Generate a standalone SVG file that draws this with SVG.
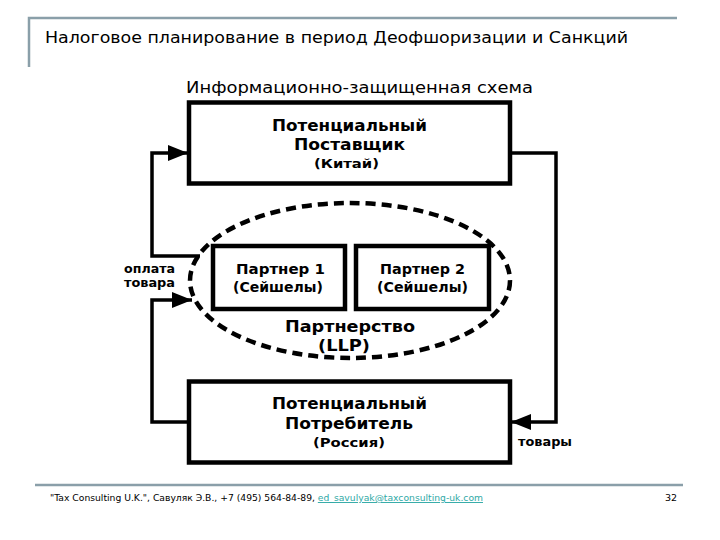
<svg xmlns="http://www.w3.org/2000/svg" width="720" height="540" viewBox="0 0 720 540">
<style>
.t{font-family:"DejaVu Sans","Liberation Sans",sans-serif;fill:#000}
.b{font-weight:bold}
.box{fill:#fff;stroke:#000;stroke-width:4.5}
.con{fill:none;stroke:#000;stroke-width:3.5}
.hd{fill:none;stroke:#8a9fa9;stroke-width:2.5}
</style>
<defs>
<marker id="ah" viewBox="0 0 20 16" refX="20" refY="8" markerWidth="20" markerHeight="16" markerUnits="userSpaceOnUse" orient="auto">
<path d="M0,0 L20,8 L0,16 Z" fill="#000"/>
</marker>
</defs>
<rect width="720" height="540" fill="#fff"/>
<g id="header">
<polyline class="hd" points="29,67 29,18 677,18"/>
<text class="t" x="45" y="43" font-size="16" textLength="583" lengthAdjust="spacingAndGlyphs">Налоговое планирование в период Деофшоризации и Санкций</text>
<text class="t" x="186" y="93" font-size="16.5" textLength="347" lengthAdjust="spacingAndGlyphs">Информационно-защищенная схема</text>
</g>
<g id="connectors">
<polyline class="con" points="200,256 152,256 152,153 188,153" marker-end="url(#ah)"/>
<polyline class="con" points="189,422 152,422 152,300 192,300" marker-end="url(#ah)"/>
<polyline class="con" points="511,153 556,153 556,422 511,422" marker-end="url(#ah)"/>
</g>
<g id="partnership">
<ellipse cx="350" cy="280.5" rx="160" ry="77.5" fill="none" stroke="#000" stroke-width="4.5" stroke-dasharray="10 6"/>
<text class="t b" x="350" y="332" font-size="15" text-anchor="middle" textLength="130" lengthAdjust="spacingAndGlyphs">Партнерство</text>
<text class="t b" x="344" y="351" font-size="15" text-anchor="middle" textLength="52" lengthAdjust="spacingAndGlyphs">(LLP)</text>
</g>
<g id="supplier">
<rect class="box" x="189" y="102.5" width="321" height="81"/>
<text class="t b" x="349.5" y="131" font-size="15.5" text-anchor="middle" textLength="155" lengthAdjust="spacingAndGlyphs">Потенциальный</text>
<text class="t b" x="349.5" y="150" font-size="15.5" text-anchor="middle" textLength="111" lengthAdjust="spacingAndGlyphs">Поставщик</text>
<text class="t b" x="346.5" y="168" font-size="13" text-anchor="middle" textLength="65" lengthAdjust="spacingAndGlyphs">(Китай)</text>
</g>
<g id="partner1">
<rect class="box" x="213" y="246" width="132" height="63"/>
<text class="t b" x="280.5" y="274" font-size="14.5" text-anchor="middle" textLength="89" lengthAdjust="spacingAndGlyphs">Партнер 1</text>
<text class="t b" x="278" y="292" font-size="14.5" text-anchor="middle" textLength="90" lengthAdjust="spacingAndGlyphs">(Сейшелы)</text>
</g>
<g id="partner2">
<rect class="box" x="356" y="246" width="133" height="63"/>
<text class="t b" x="422.5" y="274" font-size="14.5" text-anchor="middle" textLength="85" lengthAdjust="spacingAndGlyphs">Партнер 2</text>
<text class="t b" x="422.5" y="292" font-size="14.5" text-anchor="middle" textLength="91" lengthAdjust="spacingAndGlyphs">(Сейшелы)</text>
</g>
<g id="consumer">
<rect class="box" x="189" y="381.5" width="321" height="81"/>
<text class="t b" x="349.5" y="409" font-size="15.5" text-anchor="middle" textLength="155" lengthAdjust="spacingAndGlyphs">Потенциальный</text>
<text class="t b" x="349" y="429" font-size="15.5" text-anchor="middle" textLength="128" lengthAdjust="spacingAndGlyphs">Потребитель</text>
<text class="t b" x="349" y="447" font-size="13" text-anchor="middle" textLength="72" lengthAdjust="spacingAndGlyphs">(Россия)</text>
</g>
<g id="labels">
<text class="t b" x="149.5" y="273" font-size="12" text-anchor="middle" textLength="51" lengthAdjust="spacingAndGlyphs">оплата</text>
<text class="t b" x="149.5" y="287" font-size="12" text-anchor="middle" textLength="51" lengthAdjust="spacingAndGlyphs">товара</text>
<text class="t b" x="545" y="446" font-size="12" text-anchor="middle" textLength="54" lengthAdjust="spacingAndGlyphs">товары</text>
</g>
<g id="footer">
<line class="hd" x1="35" y1="485" x2="683" y2="485"/>
<text class="t" x="50" y="501" font-size="9.5" fill="#222" textLength="433" lengthAdjust="spacingAndGlyphs">"Tax Consulting U.K.", Савуляк Э.В., +7 (495) 564-84-89, <tspan fill="#2fa9a6" text-decoration="underline">ed_savulyak@taxconsulting-uk.com</tspan></text>
<text class="t" x="677" y="501" font-size="9.5" text-anchor="end">32</text>
</g>
</svg>
